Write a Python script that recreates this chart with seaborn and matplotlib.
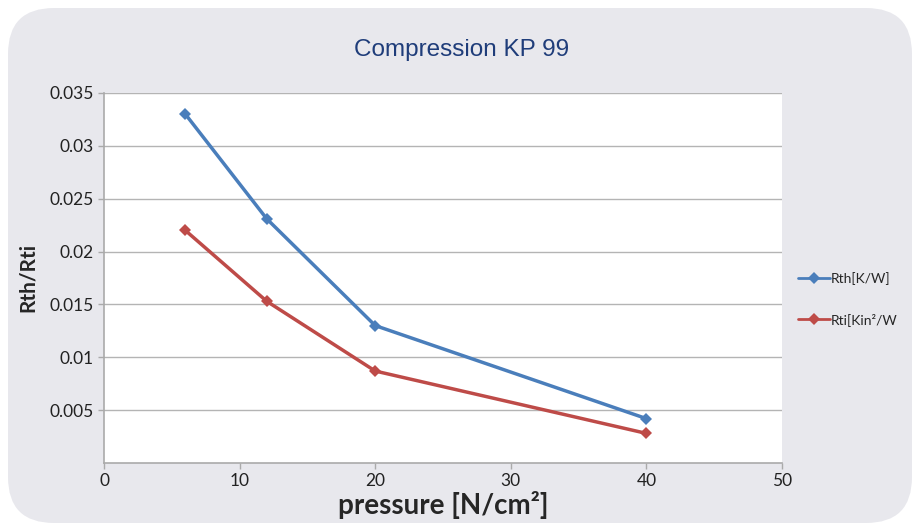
import matplotlib.pyplot as plt
import numpy as np
import pandas as pd
import seaborn as sns
from matplotlib.patches import FancyBboxPatch

# values
pressure = [6, 12, 20, 40]
rth = [0.0330, 0.0231, 0.0130, 0.0042]
rti = [0.0220, 0.0153, 0.0087, 0.0028]
series_names = ["Rth[K/W]", "Rti[Kin\u00b2/W"]
colors = ["#4a7ebb", "#be4b48"]

df = pd.DataFrame(
    {
        "pressure": pressure * 2,
        "value": rth + rti,
        "series": [series_names[0]] * len(rth) + [series_names[1]] * len(rti),
    }
)

sns.set_style("white")
plt.rcParams["font.family"] = ["Lato", "DejaVu Sans"]

fig = plt.figure(figsize=(9.19, 5.31), dpi=100)
fig.patch.set_facecolor("white")

# rounded grey chart area
bg = FancyBboxPatch(
    (8 / 919, 8 / 531),
    904 / 919,
    515 / 531,
    boxstyle="round,pad=0,rounding_size=0.05",
    transform=fig.transFigure,
    facecolor="#e8e8ed",
    edgecolor="none",
    mutation_aspect=919 / 531,
    zorder=-10,
)
fig.patches.append(bg)

ax = fig.add_axes([104 / 919, 68 / 531, 678 / 919, 370 / 531])
ax.set_facecolor("white")

sns.lineplot(
    data=df,
    x="pressure",
    y="value",
    hue="series",
    palette=colors,
    style="series",
    markers=["D", "D"],
    dashes=False,
    markersize=6,
    markeredgewidth=0,
    linewidth=2.5,
    ax=ax,
)

ax.set_xlim(0, 50)
ax.set_ylim(0, 0.035)
ax.set_xticks(np.arange(0, 51, 10))
ax.set_yticks([0.005, 0.01, 0.015, 0.02, 0.025, 0.03, 0.035])
ax.set_yticklabels(["0.005", "0.01", "0.015", "0.02", "0.025", "0.03", "0.035"])
ax.yaxis.grid(True, color="#b4b4b4", linewidth=1)
ax.tick_params(axis="both", labelsize=12.5, colors="#222222", length=4, width=1,
               color="#aaaaaa", direction="out", left=True, bottom=True)
for side in ["top", "right"]:
    ax.spines[side].set_visible(False)
for side in ["left", "bottom"]:
    ax.spines[side].set_color("#aaaaaa")
    ax.spines[side].set_linewidth(1.2)

ax.set_xlabel("pressure [N/cm\u00b2]", fontsize=20, fontweight="bold", labelpad=1)
ax.set_ylabel("Rth/Rti", fontsize=15, fontweight="bold", labelpad=8)

fig.text(462 / 919, 1 - 50 / 531, "Compression KP 99", ha="center", va="center",
         fontsize=17.5, color="#1f3d7a", family=["Liberation Sans", "DejaVu Sans"])

leg = ax.legend(
    loc="upper left",
    bbox_to_anchor=(1.005, 0.55),
    frameon=False,
    fontsize=10,
    handlelength=2.3,
    handletextpad=0.1,
    labelspacing=2.0,
)
for line in leg.get_lines():
    line.set_linewidth(2)

fig.savefig("out.png", dpi=100)
